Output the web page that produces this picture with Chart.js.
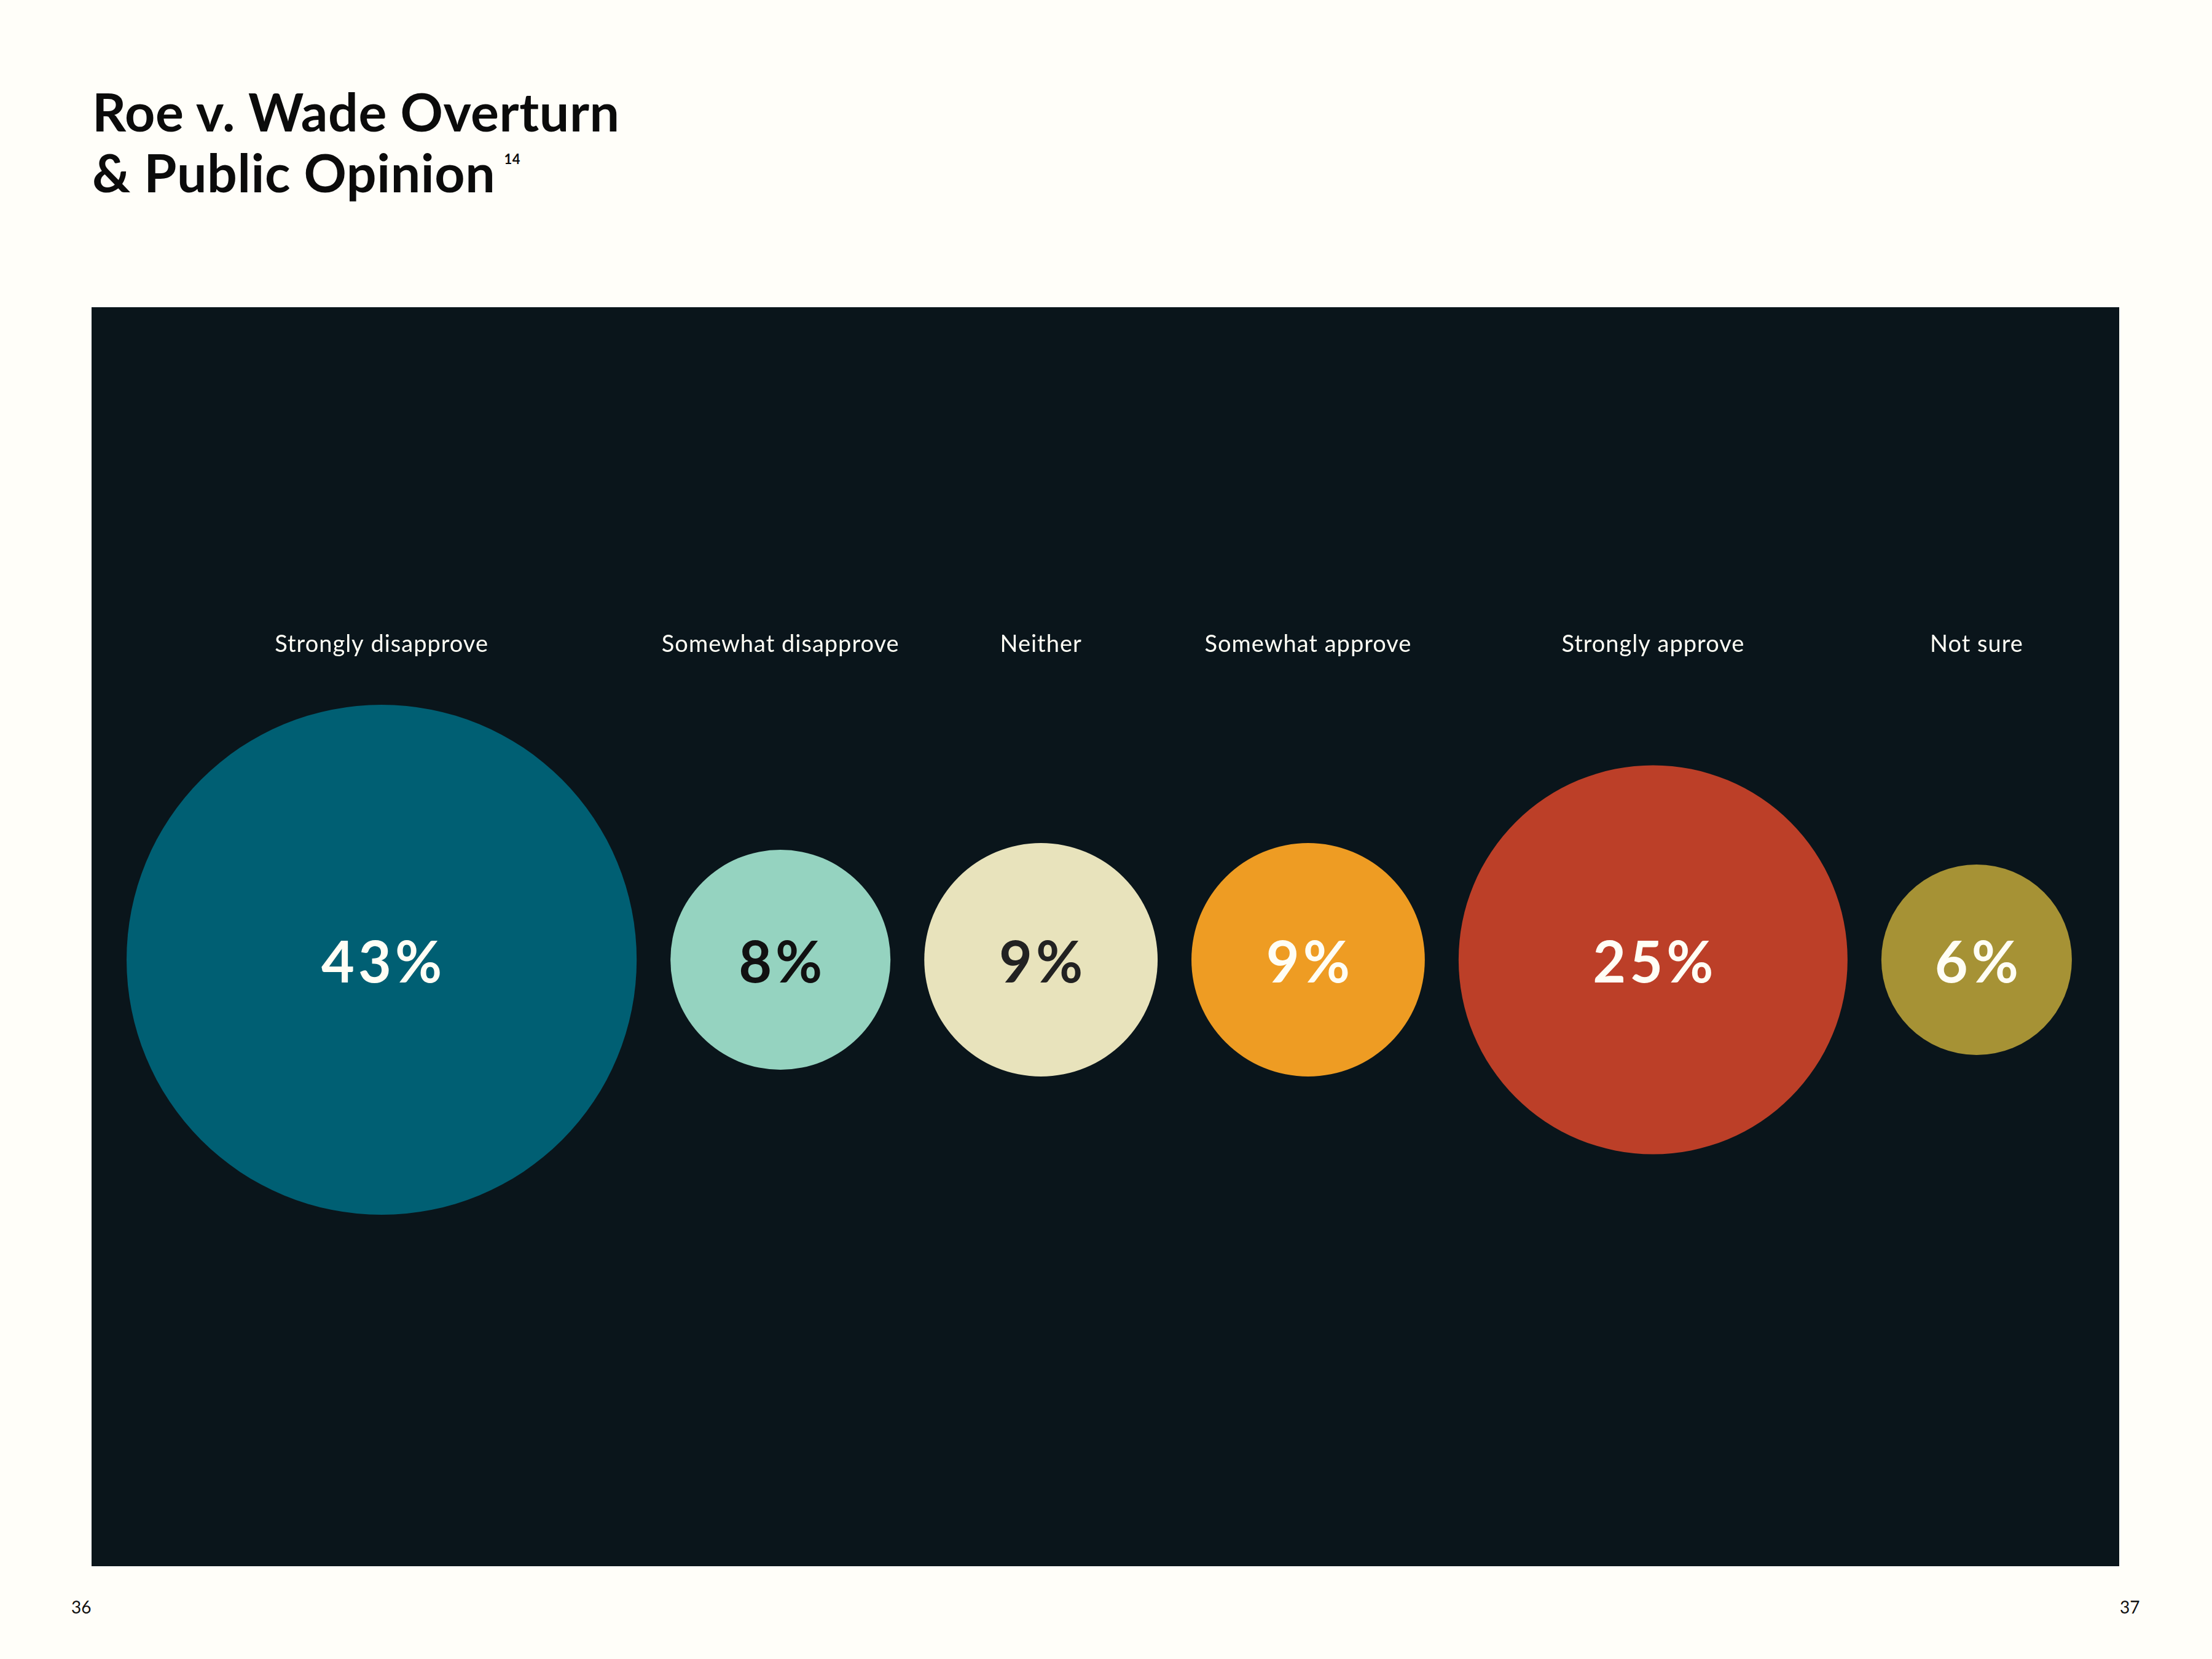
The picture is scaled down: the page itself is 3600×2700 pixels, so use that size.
<!DOCTYPE html>
<html>
<head>
<meta charset="utf-8">
<script src="https://cdn.jsdelivr.net/npm/chart.js@4"></script>
<style>
  body { margin: 0; width: 3600px; height: 2700px; background: #FFFEF9; position: relative; font-family: Lato, sans-serif; overflow: hidden; }
  #title { position: absolute; left: 150px; top: 131px; font-size: 86px; line-height: 99px; font-weight: 700; color: #0b0b0b; letter-spacing: 0.6px; }
  #title sup { font-size: 22px; vertical-align: 0; position: relative; top: -46px; margin-left: 14px; }
  #panel { position: absolute; left: 149px; top: 500px; width: 3300px; height: 2049px; background: #0A151B; }
  .page { position: absolute; top: 2598px; font-size: 28px; color: #111; }
</style>
</head>
<body>
<div id="title">Roe v. Wade Overturn<br>&amp; Public Opinion<sup>14</sup></div>
<div id="panel"><canvas id="myChart"></canvas></div>
<div class="page" style="left:116px">36</div>
<div class="page" style="left:3450px">37</div>
<script>
// Survey answers and their share (%)
const categories = ['Strongly disapprove', 'Somewhat disapprove', 'Neither', 'Somewhat approve', 'Strongly approve', 'Not sure'];
const values = [43, 8, 9, 9, 25, 6];

// Colours for the bubbles and the numbers inside them
const colors = ['#005F73', '#95D3C0', '#E8E3BC', '#EE9C23', '#BC3F28', '#A69235'];
const textColors = ['#FFFEF5', '#111111', '#222222', '#FFFEF5', '#FFFEF5', '#FFFEF5'];

const W = 3300;      // panel width, x scale runs in pixels
const k = 63.3;      // bubble area is proportional to the share
const gap = 55;
const leftEdge = 57;

// pack the bubbles side by side
const radii = values.map(v => k * Math.sqrt(v));
const xs = [];
let cursor = leftEdge;
radii.forEach(r => { xs.push(cursor + r); cursor += 2 * r + gap; });

// category names above, shares inside the bubbles
const bubbleLabels = {
  id: 'bubbleLabels',
  afterDatasetsDraw(chart) {
    const ctx = chart.ctx;
    const meta = chart.getDatasetMeta(0);
    ctx.save();
    ctx.textAlign = 'center';
    ctx.textBaseline = 'alphabetic';
    meta.data.forEach((el, i) => {
      ctx.font = '400 38px Lato';
      ctx.letterSpacing = '1px';
      ctx.fillStyle = '#FFFEF5';
      ctx.fillText(categories[i], el.x, 561);

      ctx.font = '700 93px Lato';
      ctx.letterSpacing = '6px';
      ctx.fillStyle = textColors[i];
      ctx.fillText(values[i] + '%', el.x + 3, el.y + 37);
    });
    ctx.restore();
  }
};

const ctx = document.getElementById('myChart');
new Chart(ctx, {
  type: 'bubble',
  data: {
    datasets: [{
      data: values.map((v, i) => ({ x: xs[i], y: 0, r: radii[i] })),
      backgroundColor: colors,
      borderWidth: 0,
      hoverBorderWidth: 0,
      hoverRadius: 0,
      clip: false
    }]
  },
  options: {
    responsive: true,
    maintainAspectRatio: false,
    animation: false,
    events: [],
    layout: { autoPadding: false, padding: { top: 75, bottom: 0, left: 0, right: 0 } },
    plugins: { legend: { display: false }, tooltip: { enabled: false } },
    scales: {
      x: { type: 'linear', display: false, min: 0, max: W },
      y: { display: false, min: -1, max: 1 }
    }
  },
  plugins: [bubbleLabels]
});
</script>
</body>
</html>
